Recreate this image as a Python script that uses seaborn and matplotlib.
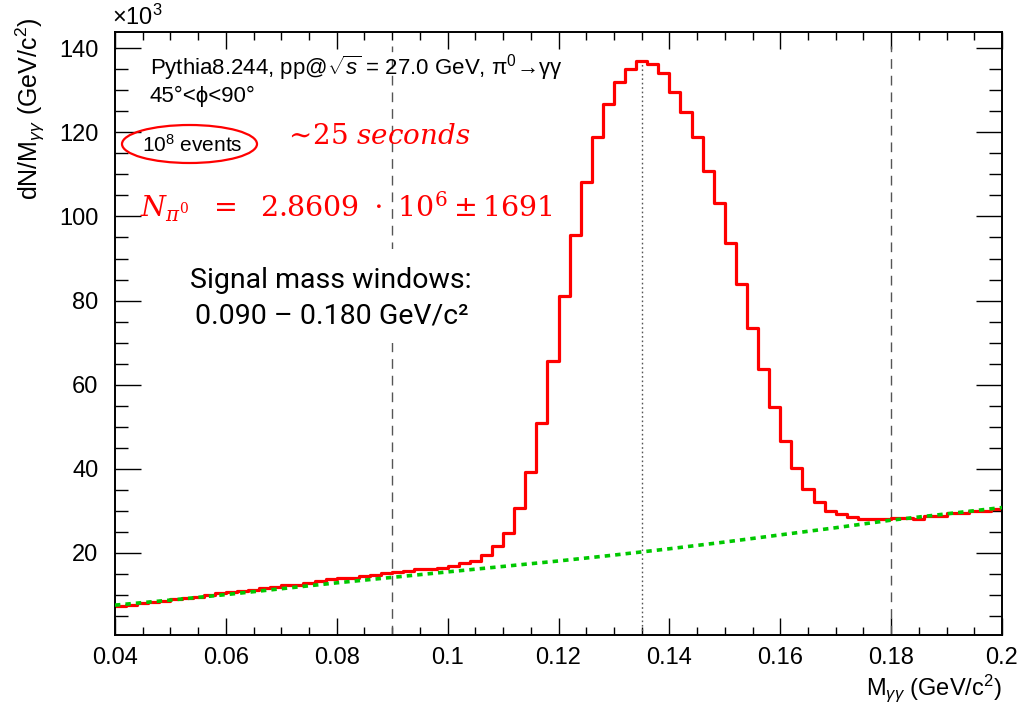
import numpy as np
import pandas as pd
import matplotlib
matplotlib.use("Agg")
import matplotlib.pyplot as plt
from matplotlib.ticker import MultipleLocator, FuncFormatter
from matplotlib.patches import Ellipse, Rectangle
import seaborn as sns

# Diphoton invariant-mass histogram, 80 bins of 2 MeV between 0.04 and 0.20 GeV/c^2
bin_lo = 0.04
bin_hi = 0.20
n_bins = 80
counts_k = [
    7.4, 7.6, 8.2, 8.3, 8.5, 9.0, 9.4, 9.6, 9.9, 10.4,
    10.8, 10.9, 11.3, 11.6, 12.0, 12.4, 12.5, 12.9, 13.3, 13.7,
    14.0, 14.1, 14.5, 14.8, 15.2, 15.5, 15.6, 16.1, 16.3, 16.5,
    16.9, 17.7, 18.1, 19.6, 21.6, 24.8, 30.7, 39.2, 50.9, 65.7,
    81.0, 95.7, 108.2, 118.8, 126.7, 131.9, 135.1, 137.0, 136.2, 134.2,
    129.7, 124.9, 119.0, 110.7, 103.3, 93.7, 83.9, 73.5, 63.8, 54.6,
    46.6, 40.1, 35.1, 32.2, 30.0, 29.2, 28.5, 28.0, 28.0, 28.0,
    28.4, 28.4, 28.1, 28.8, 28.8, 29.4, 29.4, 29.9, 29.9, 30.4,
]

# Background fit, sampled along the mass axis
bkg_mass = [0.04, 0.05, 0.06, 0.07, 0.08, 0.09, 0.10, 0.11, 0.12,
            0.13, 0.14, 0.15, 0.16, 0.17, 0.18, 0.19, 0.20]
bkg_k = [7.6, 8.8, 10.1, 11.5, 12.9, 14.2, 15.5, 16.8, 18.1,
         19.5, 21.0, 22.6, 24.3, 26.0, 27.8, 29.3, 30.8]

# Signal window and pi0 mass
window = [0.09, 0.18]
pi0_mass = 0.135

x_ticks = [0.04, 0.06, 0.08, 0.1, 0.12, 0.14, 0.16, 0.18, 0.2]
y_ticks = [20, 40, 60, 80, 100, 120, 140]

sns.set_style("ticks")
plt.rcParams["font.family"] = ["Liberation Sans", "DejaVu Sans"]
plt.rcParams["text.color"] = "black"
plt.rcParams["mathtext.fontset"] = "custom"
plt.rcParams["mathtext.rm"] = "Liberation Sans"
plt.rcParams["mathtext.it"] = "Liberation Sans:italic"
plt.rcParams["mathtext.bf"] = "Liberation Sans:bold"

W, H = 1023, 707
fig = plt.figure(figsize=(W / 100, H / 100), dpi=100)
ax = fig.add_axes([115 / W, 1 - 635 / H, (1002 - 115) / W, (635 - 32) / H])


def fx(px):
    return px / W


def fy(py):
    return 1 - py / H


width = (bin_hi - bin_lo) / n_bins
centers = bin_lo + width * (np.arange(n_bins) + 0.5)
hist_df = pd.DataFrame({"mass": centers, "counts": counts_k})
bkg_df = pd.DataFrame({"mass": bkg_mass, "counts": bkg_k})

sns.histplot(data=hist_df, x="mass", weights="counts", bins=n_bins,
             binrange=(bin_lo, bin_hi), element="step", fill=False,
             color="#ff0000", linewidth=2.3, ax=ax)
sns.lineplot(data=bkg_df, x="mass", y="counts", color="#00c800",
             linewidth=2.6, linestyle=(0, (1.5, 1.4)), ax=ax, zorder=5)

ymin, ymax = 0.5, 143.85
ax.vlines(window, ymin, 140.5, colors="#555555", linewidth=1.0,
          linestyles=[(0, (7, 5))], zorder=1)
ax.vlines([pi0_mass], ymin, max(counts_k), colors="#555555",
          linewidth=1.0, linestyles=[(0, (1.2, 2.0))], zorder=1)

ax.set_xlim(bin_lo, bin_hi)
ax.set_ylim(ymin, ymax)
ax.set_xticks(x_ticks)
ax.set_yticks(y_ticks)
ax.xaxis.set_major_formatter(FuncFormatter(lambda v, p: f"{v:g}"))
ax.xaxis.set_minor_locator(MultipleLocator(0.005))
ax.yaxis.set_minor_locator(MultipleLocator(5))
ax.set_xlabel("")
ax.set_ylabel("")
for s in ax.spines.values():
    s.set_visible(True)
    s.set_linewidth(1.4)
    s.set_color("black")
ax.tick_params(axis="x", which="major", direction="in", length=12, width=1.0,
               top=True, bottom=True, labelsize=17, pad=9, colors="black")
ax.tick_params(axis="x", which="minor", direction="in", length=6, width=1.0,
               top=True, bottom=True, colors="black")
ax.tick_params(axis="y", which="major", direction="in", length=19, width=1.0,
               left=True, right=True, labelsize=17, pad=12, colors="black")
ax.tick_params(axis="y", which="minor", direction="in", length=9.5, width=1.0,
               left=True, right=True, colors="black")
ax.grid(False)

# Axis titles and multiplier
fig.text(fx(1002), fy(688), r"M$_{\gamma\gamma}$ (GeV/c$^{2}$)", ha="right",
         va="center", fontsize=17)
fig.text(fx(30), fy(18), r"dN/M$_{\gamma\gamma}$ (GeV/c$^{2}$)", ha="center",
         va="top", rotation=90, fontsize=18)
fig.text(fx(112), fy(17), r"×10$^{3}$", ha="left", va="center", fontsize=17)

# Annotations
fig.text(fx(150), fy(68), r"Pythia8.244, pp@$\sqrt{s}$ = 27.0 GeV, π$^{0}$→γγ",
         ha="left", va="center", fontsize=16)
fig.text(fx(150), fy(96), "45°<ϕ<90°", ha="left", va="center",
         fontsize=16)
fig.text(fx(142), fy(145), r"10$^{8}$ events", ha="left", va="center",
         fontsize=15)
fig.add_artist(Ellipse((fx(189.5), fy(144)), 135 / W, 38 / H,
                       transform=fig.transFigure, fill=False,
                       edgecolor="#ff0000", linewidth=1.6))
fig.text(fx(283), fy(137), r"$\sim\!25\ seconds$", ha="left", va="center",
         fontsize=20, color="#ff0000", math_fontfamily="dejavuserif")
fig.text(fx(140), fy(207),
         r"$N_{\pi^0}\ \ =\ \ 2.8609\ \cdot\ 10^6 \pm 1691$",
         ha="left", va="center", fontsize=20.5, color="#ff0000",
         math_fontfamily="dejavuserif")

# Text box for the signal window, painted over the dashed guide
fig.add_artist(Rectangle((fx(186), fy(343)), (478 - 186) / W, (343 - 249) / H,
                         transform=fig.transFigure, facecolor="white",
                         edgecolor="none", zorder=1))
fig.text(fx(331), fy(280), "Signal mass windows:", ha="center", va="center",
         fontsize=20.5, family=["Roboto", "DejaVu Sans"], zorder=3)
fig.text(fx(332), fy(316), "0.090 – 0.180 GeV/c²", ha="center", va="center",
         fontsize=20.5, family=["Roboto", "DejaVu Sans"], zorder=3)

fig.savefig("out.png", dpi=100)
